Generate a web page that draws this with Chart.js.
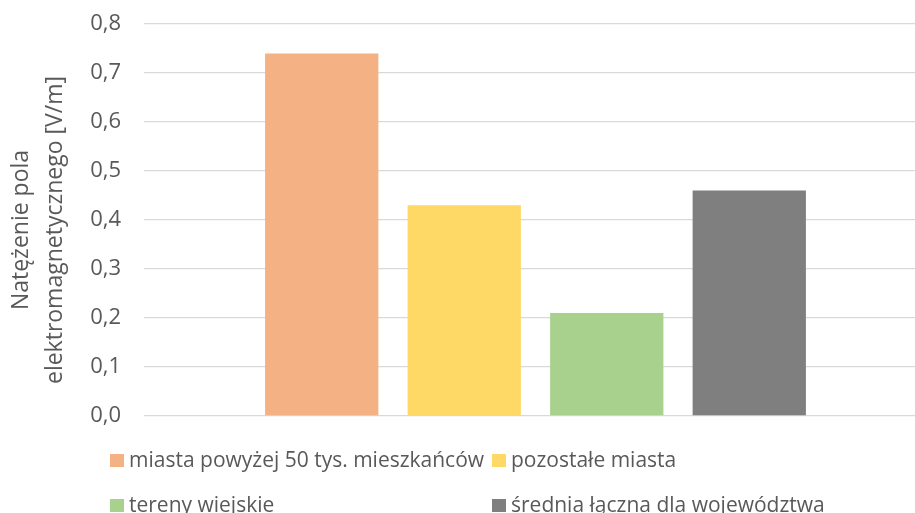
<!DOCTYPE html>
<html lang="pl">
<head>
<meta charset="utf-8">
<title>Natężenie pola elektromagnetycznego</title>
<script src="https://cdn.jsdelivr.net/npm/chart.js@4/dist/chart.umd.min.js"></script>
<style>
  html, body { margin: 0; padding: 0; background: #fff; overflow: hidden; }
  #wrap { width: 915px; height: 513px; overflow: hidden; }
</style>
</head>
<body>
<div id="wrap"><canvas id="chart" width="945" height="540"></canvas></div>
<script>
// ── dane
const seriesNames = [
  "miasta powyżej 50 tys. mieszkańców",
  "pozostałe miasta",
  "tereny wiejskie",
  "średnia łączna dla województwa"
];
const seriesValues = [0.74, 0.43, 0.21, 0.46];
const seriesColors = ["#F4B183", "#FFD966", "#A9D18E", "#7F7F7F"];
const yTitle = ["Natężenie pola", "elektromagnetycznego [V/m]"];

const FONT = "'Open Sans', sans-serif";
const TEXT = "#595959";

// ── legenda w dwóch kolumnach + tytuł osi Y
const sideText = {
  id: "sideText",
  afterDraw(chart) {
    const ctx = chart.ctx;
    const area = chart.chartArea;
    ctx.save();
    ctx.fillStyle = TEXT;

    // tytuł osi (obrócony)
    ctx.font = "23px " + FONT;
    const midY = (area.top + area.bottom) / 2 + 10;
    ctx.translate(0, midY);
    ctx.rotate(-Math.PI / 2);
    ctx.textAlign = "center";
    ctx.textBaseline = "alphabetic";
    ctx.fillText(yTitle[0], 0, 28);
    ctx.fillText(yTitle[1], 0, 62);
    ctx.setTransform(1, 0, 0, 1, 0, 0);

    // legenda
    ctx.font = "21px " + FONT;
    const cols = [110, 492], rows = [460.5, 505.5];
    ctx.textAlign = "left";
    ctx.textBaseline = "middle";
    chart.data.datasets.forEach((ds, i) => {
      const x = cols[i % 2], y = rows[Math.floor(i / 2)];
      ctx.fillStyle = ds.backgroundColor;
      ctx.fillRect(x, y - 6.5, 14, 13);
      ctx.fillStyle = TEXT;
      ctx.fillText(ds.label, x + 19, y + 1);
    });
    ctx.restore();
  }
};

const ctx = document.getElementById("chart").getContext("2d");
new Chart(ctx, {
  type: "bar",
  data: {
    labels: [""],
    datasets: seriesNames.map((name, i) => ({
      label: name,
      data: [seriesValues[i]],
      backgroundColor: seriesColors[i],
      categoryPercentage: 0.728,
      barPercentage: 0.795
    }))
  },
  options: {
    responsive: false,
    animation: false,
    layout: { padding: { top: 24, right: 18, bottom: 124, left: 0 } },
    plugins: { legend: { display: false }, tooltip: { enabled: false } },
    scales: {
      x: { display: false },
      y: {
        min: 0, max: 0.8,
        // stała szerokość osi; bez dodatkowego marginesu nad 0,8
        afterFit(scale) {
          scale.width = 144;
          scale.paddingTop = 12;
          scale.paddingBottom = 12;
        },
        border: { display: false },
        grid: { color: "#D9D9D9", lineWidth: 1.3, drawTicks: false },
        ticks: {
          stepSize: 0.1,
          padding: 23,
          color: TEXT,
          font: { family: FONT, size: 22 },
          callback: v => v.toFixed(1).replace(".", ",")
        }
      }
    }
  },
  plugins: [sideText]
});
</script>
</body>
</html>
